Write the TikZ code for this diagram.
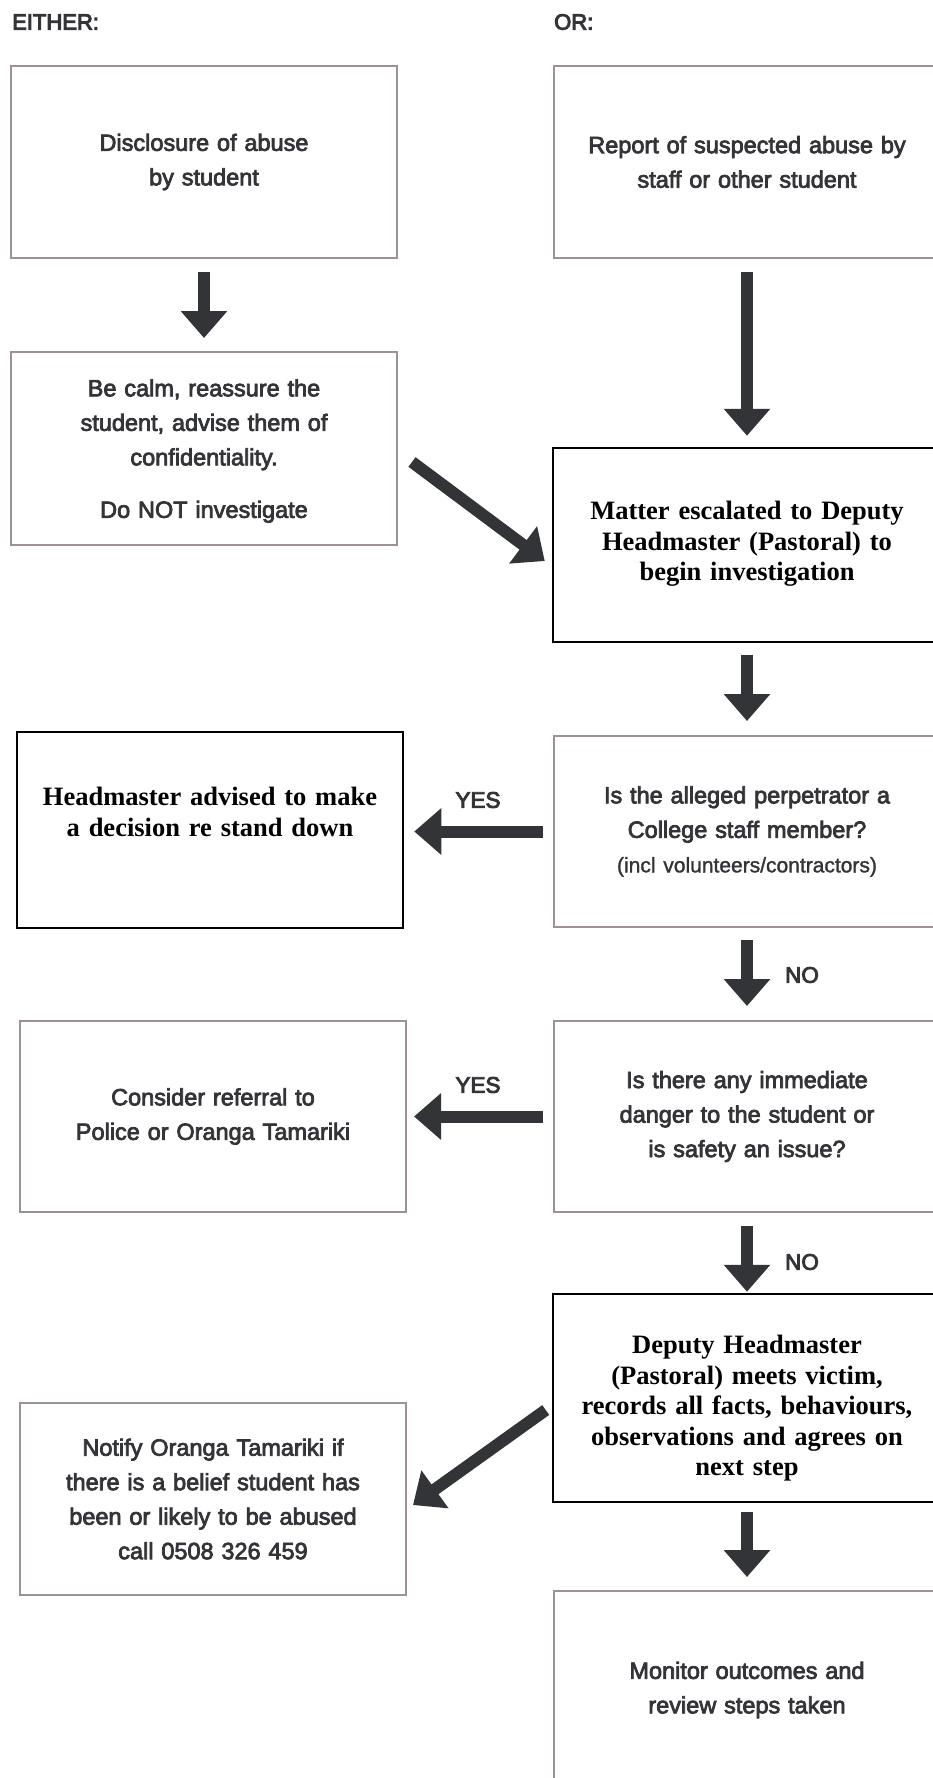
\documentclass[tikz,border=0pt]{standalone}
\usepackage{fontspec}
\setmainfont{Liberation Sans}
\newfontfamily\tms{Liberation Serif}
\usetikzlibrary{arrows.meta,calc}
\newcommand\heavytext[1]{\special{pdf:literal direct 2 Tr #1 w}}
\newcommand\plaintext{\special{pdf:literal direct 0 Tr}}
\definecolor{ink}{HTML}{333438}
\definecolor{boxgray}{HTML}{9C9292}
\definecolor{arr}{HTML}{333438}
\tikzset{
  sbox/.style={draw=boxgray, line width=2pt, minimum width=386pt, inner sep=0pt,
    align=center, text=ink, text width=380pt,
    font=\fontsize{23.5}{34.5}\selectfont\heavytext{0.75}},
  bbox/.style={draw=black, line width=2.5pt, minimum width=388pt, inner sep=0pt},
  btext/.style={align=center, text=black, text width=380pt, inner sep=0pt,
    font=\tms\bfseries\fontsize{26.5}{30.5}\selectfont\plaintext},
  bigarrow/.style={draw=arr, line width=12pt, -{Triangle[width=45pt,length=27pt]}},
  lbl/.style={text=ink, inner sep=0pt, font=\fontsize{22.5}{24}\selectfont\heavytext{0.9}},
  head/.style={text=ink, inner sep=0pt, anchor=west, font=\fontsize{22}{24}\selectfont\heavytext{1.0}},
}
\begin{document}
\begin{tikzpicture}[x=1pt,y=-1pt]
\useasboundingbox (0,0) rectangle (933,1778);
\clip (0,0) rectangle (933,1778);
\fill[white] (0,0) rectangle (933,1778);

% headings
\node[head] (either) at (12,22) {EITHER:};
\node[head] (or) at (554,22) {OR:};

% left column
\node[sbox, minimum height=192pt] (b1) at (204,162) {Disclosure of abuse\\by student};
\node[sbox, minimum height=193pt] (b3) at (204,448.5) {};
\node[align=center, text=ink, text width=380pt, inner sep=0pt,
  font=\fontsize{23.5}{34.5}\selectfont\heavytext{0.75}] (b3t) at (204,451) {Be calm, reassure the\\student, advise them of\\confidentiality.\\[18pt]Do NOT investigate};
\node[bbox, minimum height=196pt, minimum width=386pt] (hm) at (210,830) {};
\node[btext] (hmt) at (210,812) {Headmaster advised to make\\a decision re stand down};
\node[sbox, minimum height=191pt] (b7) at (213,1116.5) {Consider referral to\\Police or Oranga Tamariki};
\node[sbox, minimum height=192pt] (b10) at (213,1499) {Notify Oranga Tamariki if\\there is a belief student has\\been or likely to be abused\\call 0508 326 459};

% right column
\node[sbox, minimum height=192pt] (b2) at (747,162) {Report of suspected abuse by\\staff or other student};
\node[bbox, minimum height=194pt] (matter) at (747,545) {};
\node[btext] (mattert) at (747,544) {Matter escalated to Deputy\\Headmaster (Pastoral) to\\begin investigation};
\node[sbox, minimum height=191pt] (b5) at (747,831.5) {Is the alleged perpetrator a\\College staff member?\\{\heavytext{0.3}\fontsize{21}{34.5}\selectfont (incl volunteers/contractors)}};
\node[sbox, minimum height=191pt] (b6) at (747,1116.5) {Is there any immediate\\danger to the student or\\is safety an issue?};
\node[bbox, minimum height=208pt] (dep) at (747,1398) {};
\node[btext] (dept) at (747,1408.5) {Deputy Headmaster\\(Pastoral) meets victim,\\records all facts, behaviours,\\observations and agrees on\\next step};
\node[sbox, minimum height=198pt] (b9) at (747,1690) {Monitor outcomes and\\review steps taken};

% labels
\node[lbl] (yes1) at (478,800) {YES};
\node[lbl] (no1) at (802,975) {NO};
\node[lbl] (yes2) at (478,1085) {YES};
\node[lbl] (no2) at (802,1262) {NO};

% arrows
\draw[bigarrow, shorten <=13pt, shorten >=13pt] (b1.south) -- (b3.north);
\draw[bigarrow, shorten <=13pt, shorten >=11pt] (b2.south) -- (matter.north);
\draw[bigarrow] ($(b3.east)+(14,13.5)$) -- ($(matter.west)+(-7,16)$);
\draw[bigarrow, shorten <=12pt, shorten >=14pt] (matter.south) -- (b5.north);
\draw[bigarrow, shorten <=10pt, shorten >=10pt] (b5.west) -- (b5.west -| hm.east);
\draw[bigarrow, shorten <=12pt, shorten >=14pt] (b5.south) -- (b6.north);
\draw[bigarrow, shorten <=10pt, shorten >=7pt] (b6.west) -- (b6.west -| b7.east);
\draw[bigarrow, shorten <=13pt, shorten >=1pt] (b6.south) -- (dep.north);
\draw[bigarrow] ($(dep.west)+(-6,12)$) -- ($(b10.east)+(6,6)$);
\draw[bigarrow, shorten <=9pt, shorten >=13pt] (dep.south) -- (b9.north);
\end{tikzpicture}
\end{document}
